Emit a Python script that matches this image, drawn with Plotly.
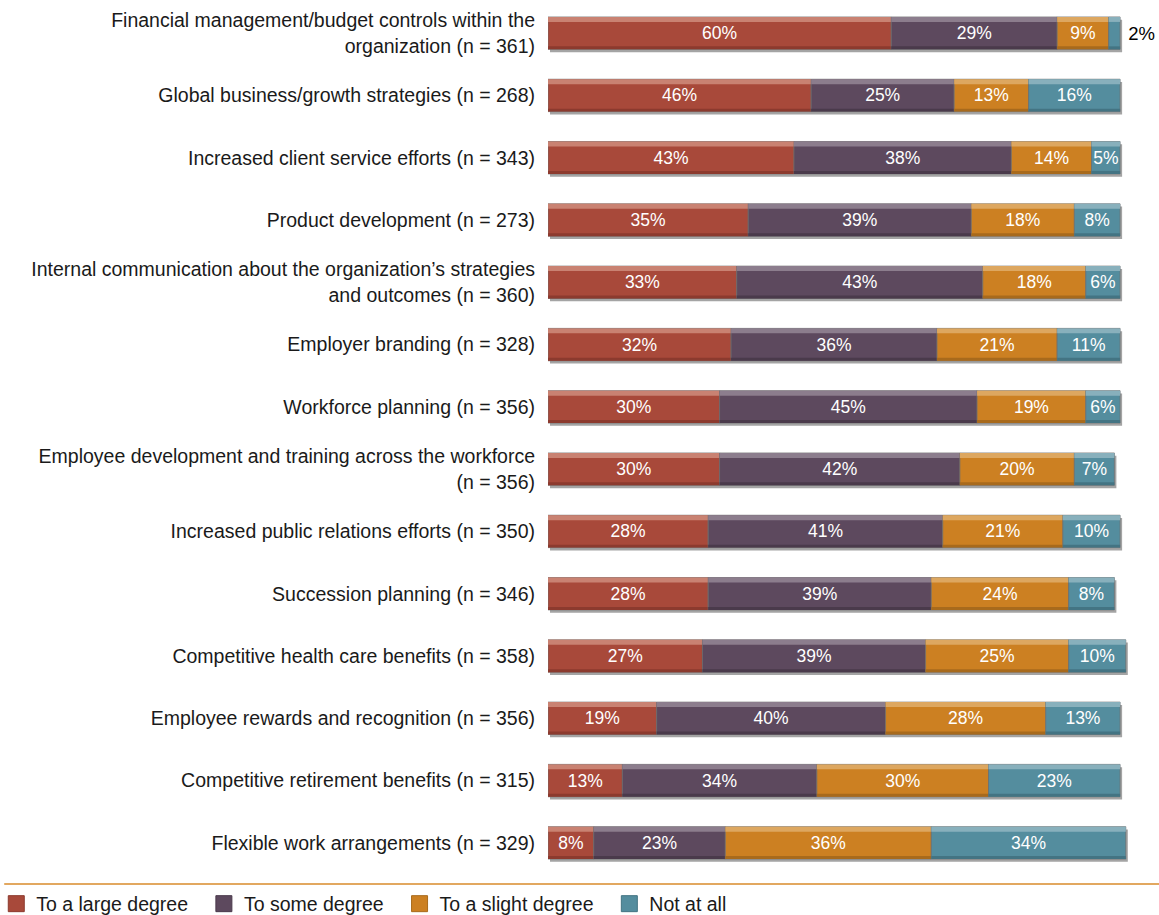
import plotly.graph_objects as go

# Survey items (top to bottom) and share of responses per degree, in percent
categories = [
    "Financial management/budget controls within the<br>organization (n = 361)",
    "Global business/growth strategies (n = 268)",
    "Increased client service efforts (n = 343)",
    "Product development (n = 273)",
    "Internal communication about the organization\u2019s strategies<br>and outcomes (n = 360)",
    "Employer branding (n = 328)",
    "Workforce planning (n = 356)",
    "Employee development and training across the workforce<br>(n = 356)",
    "Increased public relations efforts (n = 350)",
    "Succession planning (n = 346)",
    "Competitive health care benefits (n = 358)",
    "Employee rewards and recognition (n = 356)",
    "Competitive retirement benefits (n = 315)",
    "Flexible work arrangements (n = 329)",
]
large_degree = [60, 46, 43, 35, 33, 32, 30, 30, 28, 28, 27, 19, 13, 8]
some_degree = [29, 25, 38, 39, 43, 36, 45, 42, 41, 39, 39, 40, 34, 23]
slight_degree = [9, 13, 14, 18, 18, 21, 19, 20, 21, 24, 25, 28, 30, 36]
not_at_all = [2, 16, 5, 8, 6, 11, 6, 7, 10, 8, 10, 13, 23, 34]

series = [
    ("To a large degree", large_degree, "#A8493A", "#C98272", "#8C3A2E"),
    ("To some degree", some_degree, "#5D495E", "#8C7D8D", "#4A3A4B"),
    ("To a slight degree", slight_degree, "#CC8022", "#DDA760", "#A86A1C"),
    ("Not at all", not_at_all, "#548D9E", "#88B0BC", "#437483"),
]

FONT = "Liberation Sans, Arial, Helvetica, sans-serif"
BAR_W = 0.52     # bar thickness in category units
EDGE = 0.08      # bevel strip thickness
PAD = "\u00a0\u00a0"  # extra gap after each legend entry

fig = go.Figure()

# soft drop shadow under each full bar
totals = [sum(v) for v in zip(large_degree, some_degree, slight_degree, not_at_all)]
fig.add_trace(go.Bar(
    y=categories, x=totals, base=[0.35] * len(totals),
    orientation="h", width=BAR_W, offset=-BAR_W / 2 + 0.045,
    marker=dict(color="rgba(90,90,90,0.55)", line=dict(width=0)),
    showlegend=False, hoverinfo="skip",
))

cum = [0] * len(categories)
for name, vals, main, light, dark in series:
    bases = list(cum)
    small = [v < 4 for v in vals]
    fig.add_trace(go.Bar(
        y=categories, x=vals, base=bases, orientation="h", name=name,
        width=BAR_W, offset=-BAR_W / 2,
        marker=dict(color=main, line=dict(color="rgba(110,110,110,0.7)", width=1)),
        text=[(" " + f"{v}%") if s else f"{v}%" for v, s in zip(vals, small)],
        textposition=["outside" if s else "inside" for s in small],
        textangle=0, constraintext="none",
        insidetextanchor="middle",
        insidetextfont=dict(color="white", size=17.5, family=FONT),
        outsidetextfont=dict(color="black", size=18.5, family=FONT),
        cliponaxis=False, legendgroup=name, showlegend=False, hoverinfo="skip",
    ))
    # lighter top bevel
    fig.add_trace(go.Bar(
        y=categories, x=vals, base=bases, orientation="h",
        width=EDGE, offset=-BAR_W / 2,
        marker=dict(color=light, line=dict(width=0)),
        showlegend=False, legendgroup=name, hoverinfo="skip",
    ))
    # darker bottom bevel
    fig.add_trace(go.Bar(
        y=categories, x=vals, base=bases, orientation="h",
        width=EDGE * 0.6, offset=BAR_W / 2 - EDGE * 0.6,
        marker=dict(color=dark, line=dict(width=0)),
        showlegend=False, legendgroup=name, hoverinfo="skip",
    ))
    # legend swatch
    fig.add_trace(go.Scatter(
        x=[None], y=[None], mode="markers", name=name + PAD, legendgroup=name,
        marker=dict(symbol="square", size=17, color=main,
                    line=dict(color=dark, width=1)),
    ))
    cum = [c + v for c, v in zip(cum, vals)]

fig.update_layout(
    width=1159, height=915,
    margin=dict(l=548, r=0, t=2, b=41, autoexpand=False),
    barmode="overlay",
    plot_bgcolor="white", paper_bgcolor="white",
    font=dict(family=FONT, size=19, color="#1a1a1a"),
    xaxis=dict(range=[0, 106.8], visible=False, fixedrange=True),
    yaxis=dict(autorange="reversed", showgrid=False, showline=False,
               ticks="", ticklabelstandoff=12, tickfont=dict(size=19.5),
               fixedrange=True),
    showlegend=True,
    legend=dict(orientation="h", x=-0.903, xanchor="left",
                y=-0.0344, yanchor="middle",
                font=dict(size=19.5), traceorder="normal", itemwidth=30,
                bgcolor="rgba(0,0,0,0)"),
    shapes=[dict(type="line", xref="paper", yref="paper",
                 x0=-0.89, x1=1.0, y0=-0.0115, y1=-0.0115,
                 line=dict(color="#D98B2B", width=1.5))],
)

fig.write_html("out.html")
